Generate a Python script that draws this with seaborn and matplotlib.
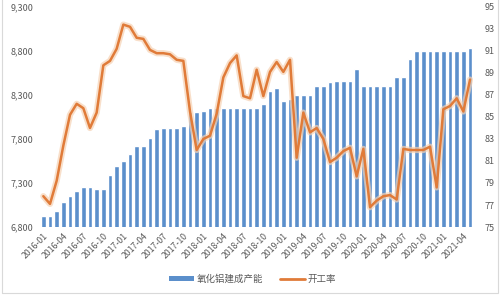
import numpy as np
import pandas as pd
import matplotlib
matplotlib.use("Agg")
import matplotlib.pyplot as plt
import matplotlib.patheffects as pe
from matplotlib.patches import Patch, Rectangle
from matplotlib.lines import Line2D
from matplotlib.ticker import FuncFormatter
import seaborn as sns

# ---- data ----
months = pd.date_range("2016-01-01", periods=65, freq="MS").strftime("%Y-%m").tolist()
capacity = [6930, 6930, 6980, 7080, 7155, 7210, 7255, 7255, 7230, 7230,
            7390, 7490, 7545, 7630, 7725, 7725, 7810, 7915, 7920, 7920,
            7920, 7945, 8105, 8110, 8120, 8150, 8150, 8150, 8150, 8150,
            8150, 8150, 8150, 8195, 8345, 8375, 8230, 8260, 8305, 8305,
            8305, 8405, 8405, 8445, 8460, 8460, 8460, 8590, 8400, 8400,
            8400, 8400, 8400, 8505, 8505, 8705, 8805, 8805, 8805, 8805,
            8805, 8805, 8805, 8805, 8830]
utilization = [77.8, 77.1, 79.2, 82.4, 85.2, 86.2, 85.8, 84.0, 85.4, 89.7,
               90.1, 91.2, 93.4, 93.2, 92.2, 92.1, 91.1, 90.8, 90.8, 90.7,
               90.2, 90.1, 85.5, 82.0, 83.0, 83.3, 85.3, 88.6, 89.9, 90.6,
               86.9, 86.7, 89.3, 86.9, 89.1, 90.0, 89.1, 90.2, 81.3, 85.4,
               83.6, 84.0, 83.0, 80.9, 81.3, 81.9, 82.2, 79.6, 82.1, 76.8,
               77.4, 77.8, 77.9, 77.5, 82.1, 82.0, 82.0, 82.0, 82.3, 78.6,
               85.7, 86.0, 86.7, 85.5, 88.4]
bar_label = "氧化铝建成产能"
line_label = "开工率"
left_ticks = [6800, 7300, 7800, 8300, 8800, 9300]
right_ticks = [75, 77, 79, 81, 83, 85, 87, 89, 91, 93, 95]

df = pd.DataFrame({"month": months, "capacity": capacity, "util": utilization})
df["pos"] = np.arange(len(df))

# ---- style ----
sns.set_theme(style="white")
plt.rcParams["font.family"] = ["Noto Sans CJK SC", "DejaVu Sans"]
text_color = "#595959"
bar_color = "#5B8FCB"
line_color = "#E07B39"

fig = plt.figure(figsize=(5.0, 2.99), dpi=100)
ax = fig.add_axes([0.08, 0.2408, 0.8667, 0.7358])

sns.barplot(data=df, x="pos", y="capacity", color=bar_color, saturation=1,
            width=0.7, ax=ax)
ax.set_ylim(6800, 9300)
ax.set_xlim(-0.5, len(df) - 0.5)
ax.set_yticks(left_ticks)
ax.yaxis.set_major_formatter(FuncFormatter(lambda v, p: f"{int(v):,}"))
ax.set_xticks(df["pos"][::3])
ax.set_xticklabels(df["month"][::3], rotation=45, ha="right",
                   rotation_mode="anchor", fontsize=6.3, color=text_color)
ax.tick_params(axis="y", labelsize=6.5, labelcolor=text_color, length=0, pad=5)
ax.tick_params(axis="x", length=0, pad=3)
ax.set_xlabel("")
ax.set_ylabel("")
for s in ax.spines.values():
    s.set_visible(False)

ax2 = ax.twinx()
sns.lineplot(data=df, x="pos", y="util", color=line_color, linewidth=1.8,
             ax=ax2,
             path_effects=[pe.Stroke(linewidth=4.5, foreground="#F6D2B4", alpha=0.7),
                           pe.Normal()])
ax2.set_ylim(75, 95)
ax2.set_yticks(right_ticks)
ax2.tick_params(axis="y", labelsize=6.5, labelcolor=text_color, length=0, pad=8)
ax2.set_xlabel("")
ax2.set_ylabel("")
ax2.set_xlim(-0.5, len(df) - 0.5)
for s in ax2.spines.values():
    s.set_visible(False)

handles = [Patch(facecolor=bar_color, edgecolor="none"),
           Line2D([0], [0], color=line_color, linewidth=2)]
fig.legend(handles, [bar_label, line_label], loc="center",
           bbox_to_anchor=(0.505, 0.067), ncol=2, frameon=False,
           fontsize=6.8, labelcolor=text_color, handlelength=2.6,
           handleheight=0.5, columnspacing=1.8, handletextpad=0.3)

fig.patches.append(Rectangle((0.004, 0.02), 0.992, 0.985, transform=fig.transFigure,
                             fill=False, edgecolor="#D9D9D9", linewidth=0.8))

fig.savefig("out.png", dpi=100)
